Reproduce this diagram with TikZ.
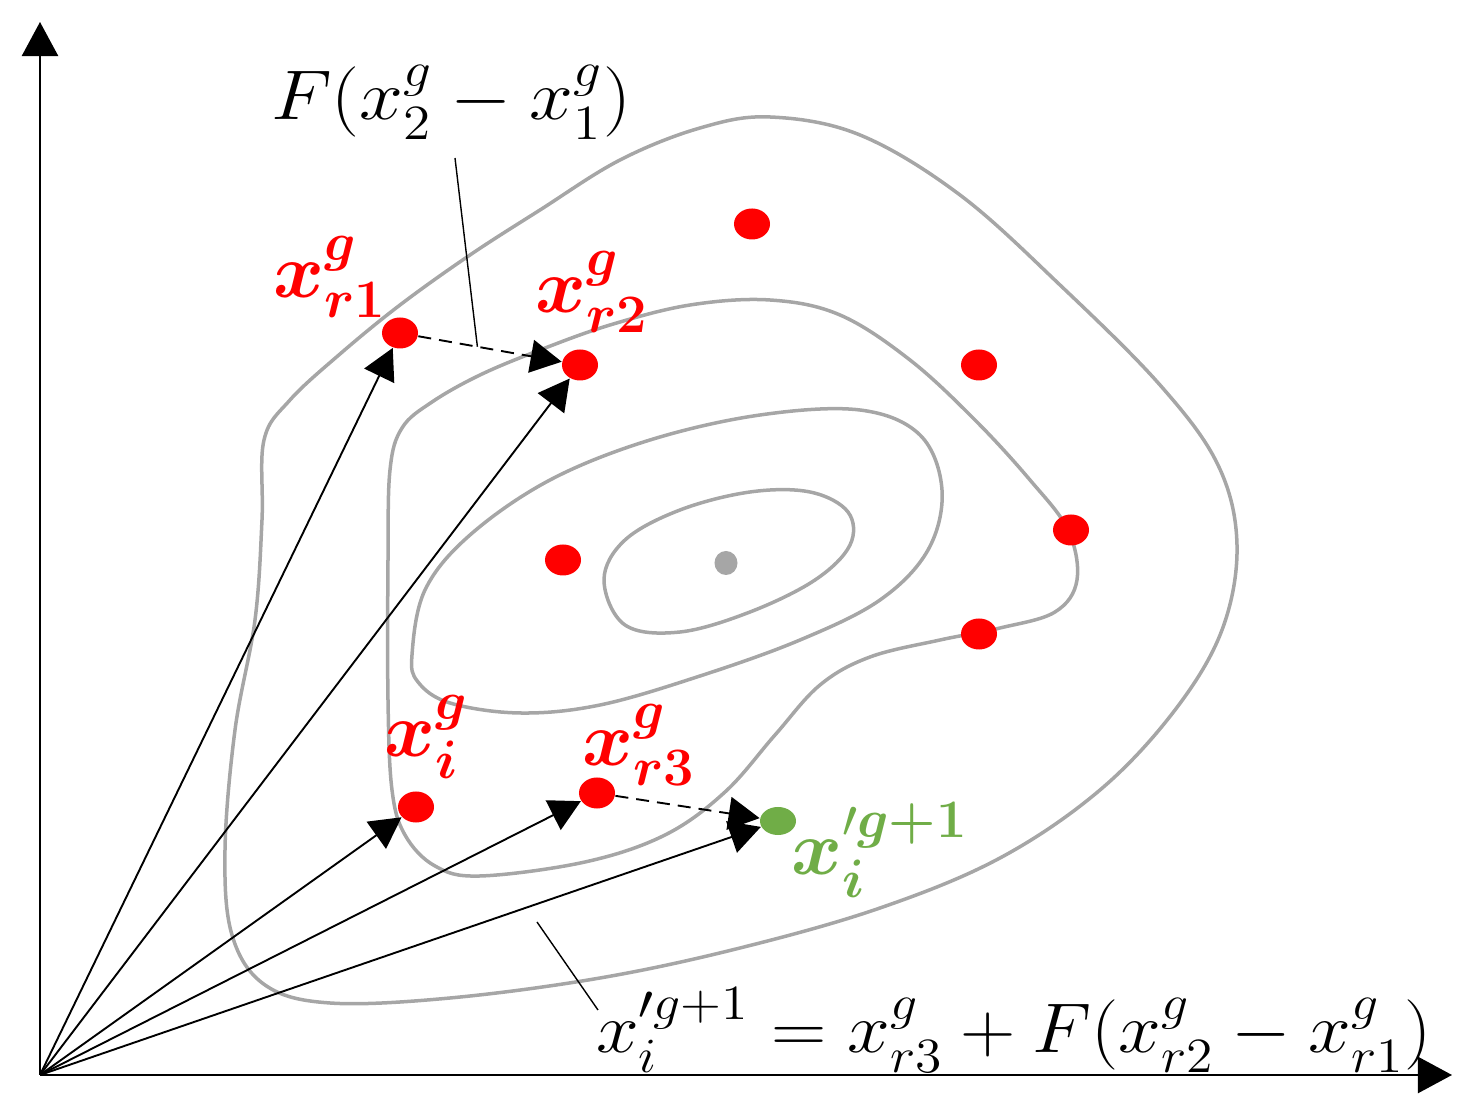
\RequirePackage{fix-cm}
\documentclass[tikz,border=0pt]{standalone}
\usepackage{amsmath}
\usepackage{graphicx}
\usetikzlibrary{arrows.meta,calc,shapes.geometric}
\DeclareMathAlphabet{\mathbi}{OML}{cmm}{b}{it}
\newcommand{\bnum}[1]{\mathbf{#1}}
\definecolor{ctr}{HTML}{A6A6A6}
\definecolor{ptred}{HTML}{FF0000}
\definecolor{ptgreen}{HTML}{70AD47}
\begin{document}
\begin{tikzpicture}[x=0.01cm,y=-0.01cm,
  contour/.style={draw=ctr, line width=0.035cm},
  dot/.style={ellipse, fill=ptred, inner sep=0pt, minimum width=0.36cm, minimum height=0.31cm},
  vec/.style={line width=0.019cm, -{Triangle[length=0.31cm,width=0.33cm]}},
  dvec/.style={vec, dash pattern=on 0.13cm off 0.08cm},
  axis/.style={line width=0.024cm, -{Triangle[length=0.34cm,width=0.36cm]}},
  lbl/.style={text=ptred, inner sep=0pt, font=\fontsize{22}{26}\selectfont},
  blk/.style={text=black, inner sep=0pt, font=\fontsize{20}{24}\selectfont},
  leader/.style={line width=0.014cm}]
\useasboundingbox (0,0) rectangle (1469,1107);

% contours
\draw[contour] plot[smooth cycle, tension=0.6] coordinates {
 (770,117) (860,135) (960,195) (1060,285) (1160,385) (1218,465) (1237,545)
 (1222,630) (1175,710) (1100,790) (1000,858) (880,908) (740,948) (600,978)
 (450,998) (330,1003) (265,985) (232,935) (225,850) (235,730) (255,620)
 (262,520) (264,440) (290,400) (340,354) (400,305) (470,255) (540,210)
 (620,160) (700,128)};
\draw[contour] plot[smooth cycle, tension=0.6] coordinates {
 (390,470) (402,428) (432,402) (480,375) (540,350) (610,325) (690,305)
 (770,300) (840,315) (910,360) (975,420) (1030,480) (1068,530) (1077,580)
 (1055,612) (1000,628) (940,640) (870,657) (820,685) (775,735) (725,792)
 (665,835) (585,862) (480,876) (435,866) (405,835) (392,790) (388,700) (388,560)};
\draw[contour] plot[smooth cycle, tension=0.6] coordinates {
 (412,655) (425,590) (470,535) (550,480) (650,440) (760,415) (860,410)
 (920,435) (942,490) (928,550) (880,600) (800,640) (700,676) (600,705)
 (520,713) (450,703) (418,682)};
\draw[contour] plot[smooth cycle, tension=0.6] coordinates {
 (604,580) (625,540) (680,510) (750,492) (810,492) (848,512) (850,545)
 (815,580) (750,612) (680,632) (625,625)};

% points
\node[dot] (r1) at (400,333) {};
\node[dot] (r2) at (580,365) {};
\node[dot] (p3) at (752,224) {};
\node[dot] (p4) at (979,365) {};
\node[dot] (p5) at (1071,530) {};
\node[dot] (p6) at (979,634) {};
\node[dot] (p7) at (563,560) {};
\node[dot] (xi) at (416,807) {};
\node[dot] (r3) at (597,793) {};
\node[dot, fill=ctr, minimum width=0.23cm, minimum height=0.24cm] (opt) at (726,563) {};
\node[dot, fill=ptgreen, minimum height=0.28cm] (gn) at (778,821) {};

% axes
\coordinate (O) at (40,1075);
\coordinate (yt) at (40,22);
\coordinate (xt) at (1452,1075);
\draw[axis] (O) -- (yt);
\draw[axis] (O) -- (xt);

% vectors
\draw[vec] (O) -- (r1);
\draw[vec] (O) -- (r2);
\draw[vec] (O) -- (xi);
\draw[vec] (O) -- (r3);
\draw[vec] (O) -- (gn);
\draw[dvec] (r1) -- (r2);
\draw[dvec] (r3) -- (gn);

% labels
\node[blk] (topl) at (451,102) {\scalebox{1.12}[1]{$F(x_2^g - x_1^g)$}};
\node[lbl] (lr1) at (330,277) {$\mathbi{x}^{\mathbi{g}}_{\mathbi{r}\bnum{1}}$};
\node[lbl] (lr2) at (592,292) {$\mathbi{x}^{\mathbi{g}}_{\mathbi{r}\bnum{2}}$};
\node[lbl] (lxi) at (427,737) {$\mathbi{x}^{\mathbi{g}}_{\mathbi{i}}$};
\node[lbl] (lr3) at (639,745) {$\mathbi{x}^{\mathbi{g}}_{\mathbi{r}\bnum{3}}$};
\node[lbl, text=ptgreen] (lgn) at (880,850) {$\mathbi{x}'^{\mathbi{g}\boldsymbol{+}\bnum{1}}_{\mathbi{i}}$};
\node[blk] (form) at (1014,1030) {\scalebox{1.09}[1]{$x'^{g+1}_{i} = x^{g}_{r3} + F(x^{g}_{r2} - x^{g}_{r1})$}};

% leaders
\coordinate (mid12) at ($(r1)!0.43!(r2)$);
\coordinate (ltop) at (455,158);
\draw[leader] (ltop) -- (mid12);
\coordinate (lb1) at (537,922);
\coordinate (lb2) at (598,1010);
\draw[leader] (lb1) -- (lb2);
\end{tikzpicture}
\end{document}
